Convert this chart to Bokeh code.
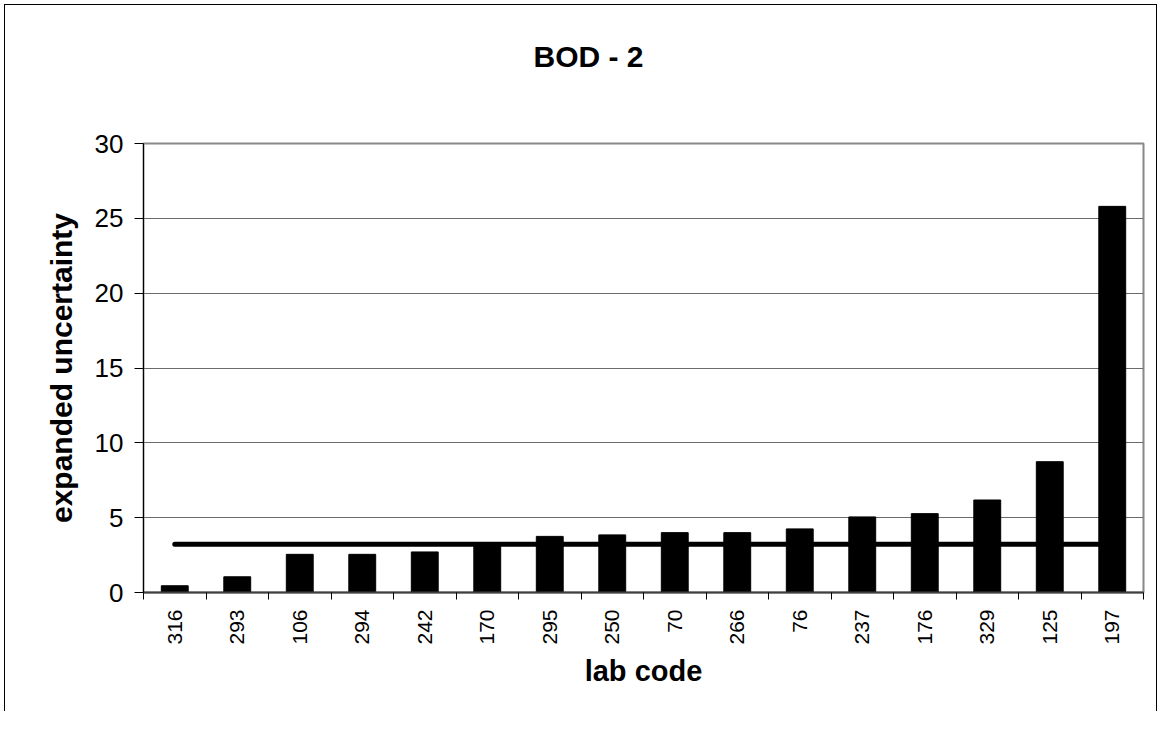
from bokeh.plotting import figure
from bokeh.models import Range1d, FixedTicker, Title
from bokeh.embed import file_html
from bokeh.resources import INLINE
import numpy as np

# ---- data ----
lab_codes = ["316", "293", "106", "294", "242", "170", "295", "250",
             "70", "266", "76", "237", "176", "329", "125", "197"]
uncertainty = [0.45, 1.05, 2.55, 2.55, 2.71, 3.1, 3.75, 3.85,
               4.0, 4.0, 4.25, 5.05, 5.27, 6.18, 8.74, 25.8]
mean_uncertainty = 3.22
y_ticks = [0, 5, 10, 15, 20, 25, 30]

n = len(lab_codes)
centers = list(np.arange(n) + 0.5)
bounds = list(np.arange(n + 1).astype(float))

FONT = "Liberation Sans"

p = figure(width=1153, height=707, output_backend="svg", toolbar_location=None,
           x_range=Range1d(0, n), y_range=Range1d(0, 30),
           min_border_left=138, min_border_right=15,
           min_border_top=138, min_border_bottom=120)
p.styles = {"border-left": "1px solid black", "border-top": "1px solid black",
            "border-right": "1px solid black",
            "margin-left": "4px", "margin-top": "4px"}
p.title.visible = False

# spacer between the frame and the chart title, then the title itself
p.add_layout(Title(text=" ", text_font_size="1px", standoff=68), "above")
p.add_layout(Title(text="BOD - 2", align="left", offset=390,
                   vertical_align="bottom", standoff=0,
                   text_font=FONT, text_font_size="30px",
                   text_font_style="bold", text_color="black"), "above")

# frame
p.outline_line_color = "#888888"
p.outline_line_width = 2
p.background_fill_color = "white"
p.border_fill_color = "white"

# grid
p.xgrid.visible = False
p.ygrid.ticker = FixedTicker(ticks=y_ticks)
p.ygrid.grid_line_color = "#6a6a6a"
p.ygrid.grid_line_width = 1

# mean line (behind bars)
p.line(x=centers, y=[mean_uncertainty] * n, line_color="black",
       line_width=5, line_cap="round")

# bars
p.vbar(x=centers, top=uncertainty, width=0.43, bottom=0,
       fill_color="black", line_color="black", line_width=1)

# y axis
yax = p.yaxis[0]
yax.ticker = FixedTicker(ticks=y_ticks)
yax.axis_label = "expanded uncertainty"
yax.axis_label_text_font = FONT
yax.axis_label_text_font_size = "30px"
yax.axis_label_text_font_style = "bold"
yax.axis_label_text_color = "black"
yax.axis_label_standoff = 14
yax.major_label_text_font = FONT
yax.major_label_text_font_size = "26px"
yax.major_label_text_color = "black"
yax.major_label_standoff = 11
yax.major_tick_out = 9
yax.major_tick_in = 0
yax.minor_tick_out = 0
yax.minor_tick_in = 0
yax.axis_line_color = "black"
yax.axis_line_width = 1
yax.major_tick_line_color = "black"

# x axis: labels at category centres, tick marks at category boundaries
xax = p.xaxis[0]
xax.ticker = FixedTicker(ticks=centers, minor_ticks=bounds)
xax.major_label_overrides = {c: lab for c, lab in zip(centers, lab_codes)}
xax.major_label_orientation = np.pi / 2
xax.major_label_text_font = FONT
xax.major_label_text_font_size = "21px"
xax.major_label_text_color = "black"
xax.major_label_standoff = 10
xax.major_tick_out = 0
xax.major_tick_in = 0
xax.minor_tick_out = 7
xax.minor_tick_in = 0
xax.minor_tick_line_color = "black"
xax.axis_line_color = "#404040"
xax.axis_line_width = 2
xax.axis_label = "lab code"
xax.axis_label_text_font = FONT
xax.axis_label_text_font_size = "29px"
xax.axis_label_text_font_style = "bold"
xax.axis_label_text_color = "black"
xax.axis_label_standoff = 7

open("out.html", "w").write(file_html(p, INLINE))
